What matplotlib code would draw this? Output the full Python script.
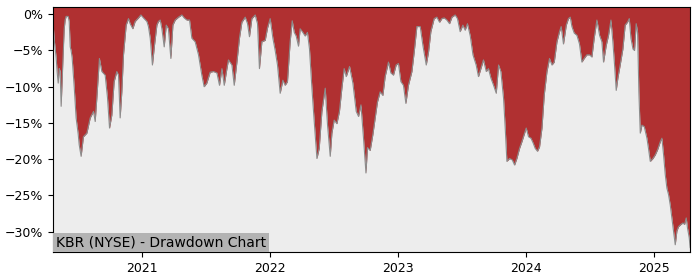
import numpy as np
import matplotlib
matplotlib.use("Agg")
import matplotlib.pyplot as plt
from matplotlib.ticker import PercentFormatter

# time in decimal years, drawdown in percent
t = [2020.305, 2020.313, 2020.328, 2020.336, 2020.344, 2020.352, 2020.359, 2020.367,
     2020.375, 2020.383, 2020.391, 2020.398, 2020.406, 2020.422, 2020.430, 2020.438,
     2020.445, 2020.453, 2020.469, 2020.484, 2020.500, 2020.508, 2020.523, 2020.541,
     2020.568, 2020.594, 2020.620, 2020.633, 2020.646, 2020.666, 2020.685, 2020.711,
     2020.729, 2020.745, 2020.763, 2020.781, 2020.802, 2020.815, 2020.828, 2020.841,
     2020.854, 2020.875, 2020.893, 2020.906, 2020.927, 2020.945, 2020.971, 2020.990,
     2021.010, 2021.037, 2021.049, 2021.063, 2021.080, 2021.096, 2021.115, 2021.127,
     2021.141, 2021.154, 2021.172, 2021.188, 2021.205, 2021.224, 2021.240, 2021.258,
     2021.284, 2021.310, 2021.328, 2021.349, 2021.370, 2021.388, 2021.414, 2021.440,
     2021.466, 2021.484, 2021.505, 2021.531, 2021.557, 2021.584, 2021.604, 2021.623,
     2021.641, 2021.662, 2021.674, 2021.701, 2021.719, 2021.740, 2021.760, 2021.779,
     2021.805, 2021.823, 2021.838, 2021.857, 2021.883, 2021.901, 2021.916, 2021.935,
     2021.961, 2021.979, 2022.000, 2022.021, 2022.039, 2022.057, 2022.078, 2022.099,
     2022.117, 2022.135, 2022.156, 2022.172, 2022.188, 2022.203, 2022.221, 2022.234,
     2022.255, 2022.273, 2022.291, 2022.307, 2022.326, 2022.344, 2022.365, 2022.383,
     2022.404, 2022.430, 2022.448, 2022.469, 2022.482, 2022.500, 2022.521, 2022.541,
     2022.560, 2022.578, 2022.594, 2022.620, 2022.646, 2022.672, 2022.690, 2022.709,
     2022.729, 2022.748, 2022.760, 2022.781, 2022.802, 2022.820, 2022.838, 2022.859,
     2022.880, 2022.898, 2022.924, 2022.943, 2022.963, 2022.984, 2023.002, 2023.021,
     2023.041, 2023.060, 2023.080, 2023.107, 2023.125, 2023.146, 2023.172, 2023.193,
     2023.219, 2023.237, 2023.255, 2023.281, 2023.302, 2023.323, 2023.341, 2023.359,
     2023.380, 2023.401, 2023.420, 2023.445, 2023.463, 2023.484, 2023.505, 2023.523,
     2023.541, 2023.563, 2023.584, 2023.609, 2023.627, 2023.646, 2023.666, 2023.688,
     2023.705, 2023.724, 2023.745, 2023.766, 2023.784, 2023.802, 2023.823, 2023.836,
     2023.849, 2023.870, 2023.891, 2023.909, 2023.927, 2023.948, 2023.966, 2023.984,
     2024.000, 2024.018, 2024.037, 2024.055, 2024.070, 2024.088, 2024.104, 2024.123,
     2024.141, 2024.162, 2024.182, 2024.201, 2024.219, 2024.240, 2024.260, 2024.273,
     2024.291, 2024.313, 2024.330, 2024.344, 2024.357, 2024.375, 2024.396, 2024.416,
     2024.435, 2024.453, 2024.474, 2024.495, 2024.513, 2024.531, 2024.552, 2024.573,
     2024.591, 2024.604, 2024.625, 2024.643, 2024.662, 2024.677, 2024.690, 2024.703,
     2024.716, 2024.734, 2024.755, 2024.773, 2024.791, 2024.805, 2024.818, 2024.834,
     2024.846, 2024.859, 2024.870, 2024.880, 2024.891, 2024.904, 2024.922, 2024.943,
     2024.955, 2024.969, 2024.990, 2025.008, 2025.026, 2025.047, 2025.060, 2025.073,
     2025.086, 2025.099, 2025.112, 2025.125, 2025.138, 2025.151, 2025.164, 2025.177,
     2025.190, 2025.208, 2025.224, 2025.237, 2025.250, 2025.260, 2025.273, 2025.281]

dd = [-1.5, -3.5, -6, -8, -9.5, -7.5, -7.8, -12.7,
      -9, -5, -2, -0.8, -0.3, -0.3, -1, -4.5,
      -5, -6, -10, -14.3, -16.5, -18, -19.6, -16.9,
      -16.4, -14.3, -13.4, -14.8, -11.5, -6.1, -7.9, -8.4,
      -11.5, -15.7, -13.9, -9.3, -7.9, -8.4, -14.3, -10.7,
      -5.6, -1.5, -0.6, -1.3, -2, -1, -0.5, -0.1,
      -0.5, -1, -1.7, -3.3, -7, -4.3, -1.5, -1,
      -0.8, -2, -4.5, -1.5, -2, -6.1, -1.5, -0.8,
      -0.4, -0.1, -0.5, -0.8, -0.8, -3.3, -3.8, -5.6,
      -8.4, -10, -9.5, -8, -7.9, -8.1, -9.8, -7.5,
      -9.8, -7.5, -6.3, -7, -9.8, -6.6, -3.3, -1.1,
      -0.4, -1.3, -3.1, -0.6, -0.1, -1.3, -7.5, -3.8,
      -3.6, -1.9, -0.6, -3.3, -5, -7, -10.9, -9.1,
      -9.8, -9.3, -3.8, -0.9, -2.5, -3, -4.4, -2,
      -2.5, -3, -2.5, -4.8, -10.2, -14.8, -19.9, -18.5,
      -13.4, -10.2, -15.3, -19.6, -16.4, -14.6, -15.1, -13.4,
      -10.2, -7.5, -8.6, -7.2, -9.5, -13.4, -14.1, -12.5,
      -17.1, -21.9, -18.4, -18.8, -16.6, -14.3, -12.1, -10.7,
      -11.2, -8.6, -6.6, -8.1, -8.4, -7, -6.8, -9.3,
      -9.8, -12.3, -9.8, -7.9, -5.2, -1.7, -1.7, -4.3,
      -7, -5.2, -2.4, -0.6, -0.4, -1.1, -0.6, -0.5,
      -0.8, -1.3, -0.4, -0.1, -0.6, -2.4, -1.5, -2.2,
      -1.3, -3, -5.6, -7, -8.6, -7.5, -6.3, -7.9,
      -7.5, -8.8, -9.8, -10.9, -7, -7.9, -11.6, -15.7,
      -20.3, -19.9, -20.1, -20.8, -19.9, -18.5, -17.6, -16.6,
      -15.7, -16.9, -17.1, -17.8, -18.5, -18.9, -18.3, -15.7,
      -11.1, -7.9, -6.1, -7, -6.6, -3.8, -2.4, -1.7,
      -4.1, -1.5, -0.6, -0.4, -1.7, -2.6, -2.9, -4.1,
      -6.6, -6.1, -5.6, -5.6, -5.9, -3.3, -0.8, -2.9,
      -3.8, -6.6, -4.3, -2.9, -0.8, -3.8, -7, -10.5,
      -8.8, -7, -4.8, -1.5, -1.1, -0.6, -3.3, -4.8,
      -5, -1.3, -2.5, -10.7, -16.4, -15.3, -15.5, -17.1,
      -18.5, -20.3, -19.9, -19.4, -18.7, -17.6, -17.1, -19.4,
      -22.1, -24, -24.9, -26.3, -28.1, -29.9, -31.8, -29.9,
      -29.3, -29, -28.8, -29, -28.1, -29.5, -30.8, -32.2]

years = [2021, 2022, 2023, 2024, 2025]
title = "KBR (NYSE) - Drawdown Chart"

t = np.array(t)
dd = np.array(dd)
ytop = 1.0
ybot = -32.8

fig = plt.figure(figsize=(7, 2.8), dpi=100)
ax = fig.add_axes([0.076, 0.1, 0.91, 0.875])
ax.set_facecolor("#ededed")
ax.fill_between(t, dd, ytop, color="#b03031", lw=0)
ax.plot(t, dd, color="#8c8c8c", lw=0.8)
ax.set_xlim(t[0], t[-1])
ax.set_ylim(ybot, ytop)
ax.set_xticks(years)
ax.set_xticklabels([str(y) for y in years])
ax.set_yticks([0, -5, -10, -15, -20, -25, -30])
ax.yaxis.set_major_formatter(PercentFormatter(decimals=0))
ax.tick_params(labelsize=9)
ax.text(0.004, 0.01, title, transform=ax.transAxes, fontsize=10,
        va="bottom", ha="left",
        bbox=dict(facecolor="#b3b3b3", edgecolor="none", pad=2))
plt.savefig("out.png")
